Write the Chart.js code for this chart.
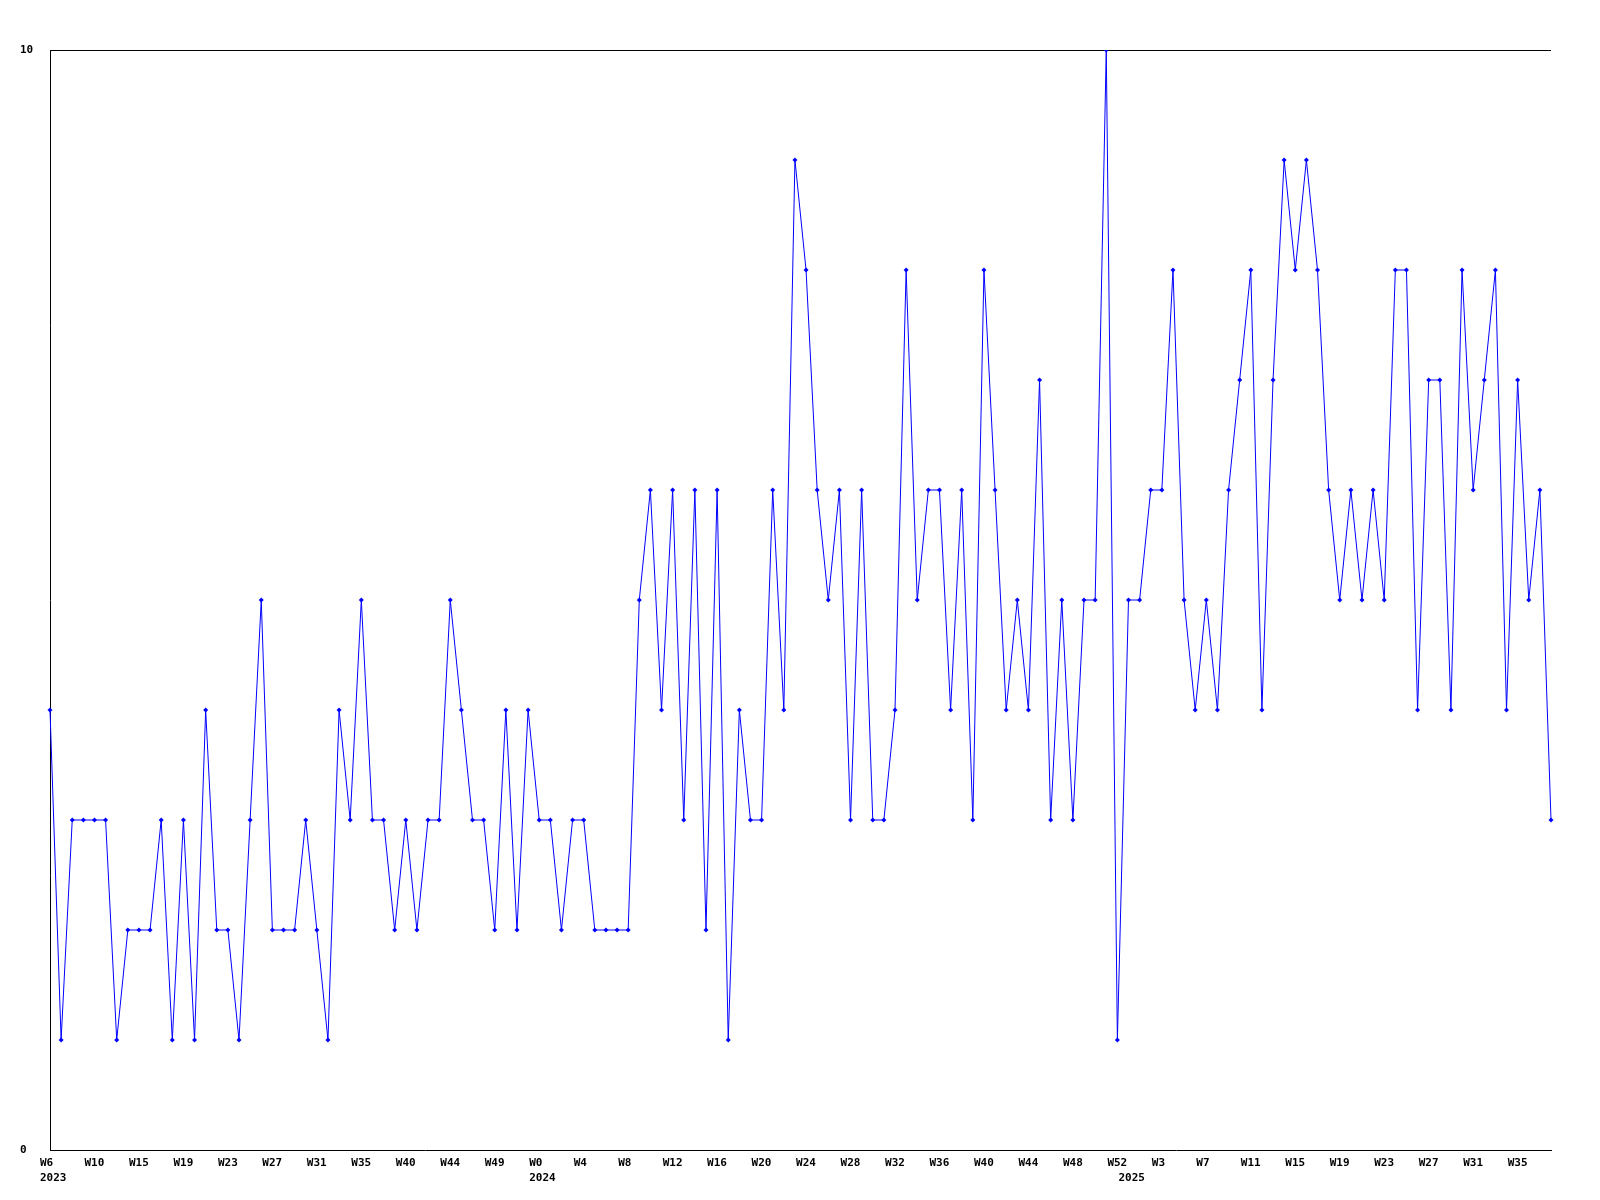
<!DOCTYPE html>
<html>
<head>
<meta charset="utf-8">
<script src="https://cdn.jsdelivr.net/npm/chart.js@4/dist/chart.umd.min.js"></script>
<style>
  html, body { margin: 0; padding: 0; background: #fff; }
  #chart { display: block; }
</style>
</head>
<body>
<canvas id="chart" width="1600" height="1200"></canvas>
<script>
// weekly counts, W6 2023 .. W38 2025
const values = [
  4, 1, 3, 3, 3, 3, 1, 2, 2, 2, 3, 1, 3, 1, 4, 2, 2, 1, 3, 5, 2, 2, 2, 3, 2, 1, 4, 3, 5, 3, 3, 2, 3, 2,
  3, 3, 5, 4, 3, 3, 2, 4, 2, 4, 3, 3, 2, 3, 3, 2, 2, 2, 2, 5, 6, 4, 6, 3, 6, 2, 6, 1, 4, 3, 3, 6, 4, 9, 8, 6,
  5, 6, 3, 6, 3, 3, 4, 8, 5, 6, 6, 4, 6, 3, 8, 6, 4, 5, 4, 7, 3, 5, 3, 5, 5, 10, 1, 5, 5, 6, 6, 8, 5, 4, 5, 4,
  6, 7, 8, 4, 7, 9, 8, 9, 8, 6, 5, 6, 5, 6, 5, 8, 8, 4, 7, 7, 4, 8, 6, 7, 8, 4, 7, 5, 6, 3
];

// one label every 4 weeks
const weekTicks = [
  'W6', 'W10', 'W15', 'W19', 'W23', 'W27', 'W31', 'W35', 'W40', 'W44', 'W49',
  'W0', 'W4', 'W8', 'W12', 'W16', 'W20', 'W24', 'W28', 'W32', 'W36', 'W40', 'W44', 'W48', 'W52',
  'W3', 'W7', 'W11', 'W15', 'W19', 'W23', 'W27', 'W31', 'W35'
];
const years = ['2023', '2024', '2025'];
const yearStart = [0, 44, 97];

const labels = values.map((v, i) => String(i));

const FONT = { family: '"DejaVu Sans Mono", monospace', size: 11, weight: 'bold', lineHeight: 1.4 };

new Chart(document.getElementById('chart'), {
  type: 'line',
  data: {
    labels: labels,
    datasets: [{
      data: values,
      borderColor: '#0000ff',
      borderWidth: 1,
      backgroundColor: '#0000ff',
      pointStyle: 'rectRot',
      pointRadius: 2.5,
      pointBorderWidth: 0,
      pointBackgroundColor: '#0000ff',
      tension: 0,
      fill: false,
    }],
  },
  options: {
    responsive: false,
    animation: false,
    devicePixelRatio: 1,
    layout: { padding: { left: 20, top: 50, right: 49, bottom: 0 } },
    plugins: {
      legend: { display: false },
      tooltip: { enabled: false },
    },
    scales: {
      x: {
        type: 'category',
        offset: false,
        grid: { display: false, drawTicks: false },
        border: { display: true, color: '#000', width: 1 },
        afterFit: (scale) => { scale.height = 50; },
        ticks: {
          autoSkip: false,
          maxRotation: 0,
          minRotation: 0,
          align: 'start',
          labelOffset: -10,
          padding: 5,
          color: '#000',
          font: FONT,
          callback: (val, i) => {
            const week = i % 4 === 0 ? (weekTicks[i / 4] || '') : '';
            const y = yearStart.indexOf(i);
            if (y >= 0) return [week, years[y]];
            return week || null;
          },
        },
      },
      y: {
        min: 0,
        max: 10,
        grid: { color: (ctx) => ctx.tick.value === 10 ? '#000' : 'rgba(0,0,0,0)', drawTicks: false, lineWidth: 1 },
        border: { display: true, color: '#000', width: 1 },
        afterFit: (scale) => { scale.width = 30; },
        ticks: {
          stepSize: 10,
          crossAlign: 'far',
          padding: 0,
          color: '#000',
          font: { family: '"DejaVu Sans Mono", monospace', size: 11, weight: 'bold' },
        },
      },
    },
  },
});
</script>
</body>
</html>
